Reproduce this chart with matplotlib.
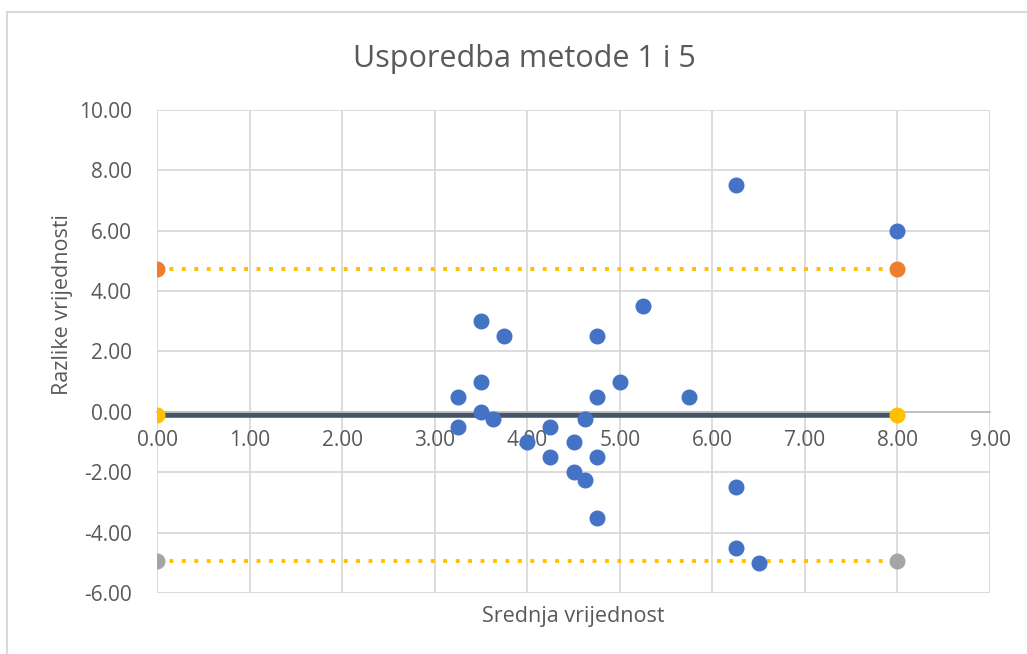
import matplotlib.pyplot as plt
from matplotlib.patches import Rectangle

# srednja vrijednost (x) i razlika (y) za metode 1 i 5
srednja = [3.50, 3.75, 4.75, 5.25, 3.50, 3.25, 5.00, 4.75, 5.75, 3.50,
           3.625, 3.25, 4.25, 4.625, 4.00, 4.50, 4.25, 4.75, 4.50, 4.625,
           4.75, 6.25, 8.00, 6.25, 6.25, 6.50]
razlike = [3.0, 2.5, 2.5, 3.5, 1.0, 0.5, 1.0, 0.5, 0.5, 0.0,
           -0.25, -0.5, -0.5, -0.25, -1.0, -1.0, -1.5, -1.5, -2.0, -2.25,
           -3.5, 7.5, 6.0, -2.5, -4.5, -5.0]

# granice (Bland-Altman)
granice_x = [0.0, 8.0]
prosjek = [-0.1, -0.1]
gornja = [4.72, 4.72]
donja = [-4.93, -4.93]

plt.rcParams['font.family'] = ['Open Sans', 'DejaVu Sans']

fig = plt.figure(figsize=(10.27, 6.54), dpi=100)
ax = fig.add_axes([0.1529, 0.0933, 0.964 - 0.1529, 0.8318 - 0.0933])

# okvir oko grafikona
fig.patches.append(Rectangle((0.007, -0.05), 1.1, 0.032 + 0.05 + 0.95, transform=fig.transFigure,
                             fill=False, edgecolor='#D9D9D9', linewidth=1.5))

ax.set_xlim(0, 9)
ax.set_ylim(-6, 10)
ax.set_xticks(range(0, 10))
ax.set_yticks(range(-6, 11, 2))
ax.xaxis.set_major_formatter(plt.FuncFormatter(lambda v, p: '{:.2f}'.format(v)))
ax.yaxis.set_major_formatter(plt.FuncFormatter(lambda v, p: '{:.2f}'.format(v)))
ax.grid(True, color='#D9D9D9', linewidth=1.3, zorder=0)
ax.set_axisbelow(True)
for s in ['left', 'right', 'top']:
    ax.spines[s].set_visible(False)
ax.spines['bottom'].set_position(('data', 0))
ax.spines['bottom'].set_color('#BFBFBF')
ax.spines['bottom'].set_linewidth(1.3)
ax.tick_params(length=0, labelsize=15, colors='#595959')
ax.tick_params(axis='x', pad=13)
ax.tick_params(axis='y', pad=18)

# linije granica
ax.plot(granice_x, gornja, linestyle=(0, (1, 2.2)), color='#FFC000', linewidth=2.8, zorder=2)
ax.plot(granice_x, donja, linestyle=(0, (1, 2.2)), color='#FFC000', linewidth=2.8, zorder=2)
ax.plot(granice_x, prosjek, color='#44546A', linewidth=4, zorder=2)

ax.plot(granice_x, gornja, 'o', color='#ED7D31', markersize=10.5, zorder=3, linestyle='none')
ax.plot(granice_x, donja, 'o', color='#A5A5A5', markersize=10.5, zorder=3, linestyle='none')
ax.plot(granice_x, prosjek, 'o', color='#FFC000', markersize=10.5, zorder=3, linestyle='none')

# tocke
ax.plot(srednja, razlike, 'o', color='#4472C4', markersize=10.5, zorder=4, linestyle='none')

fig.text(0.511, 0.910, 'Usporedba metode 1 i 5', ha='center', va='center', fontsize=22, color='#595959')
fig.text(0.558, 0.058, 'Srednja vrijednost', ha='center', va='center', fontsize=15.5, color='#595959')
fig.text(0.061, 0.535, 'Razlike vrijednosti', ha='center', va='center', rotation=90, fontsize=15.5, color='#595959')

fig.savefig('out.png', dpi=100)
